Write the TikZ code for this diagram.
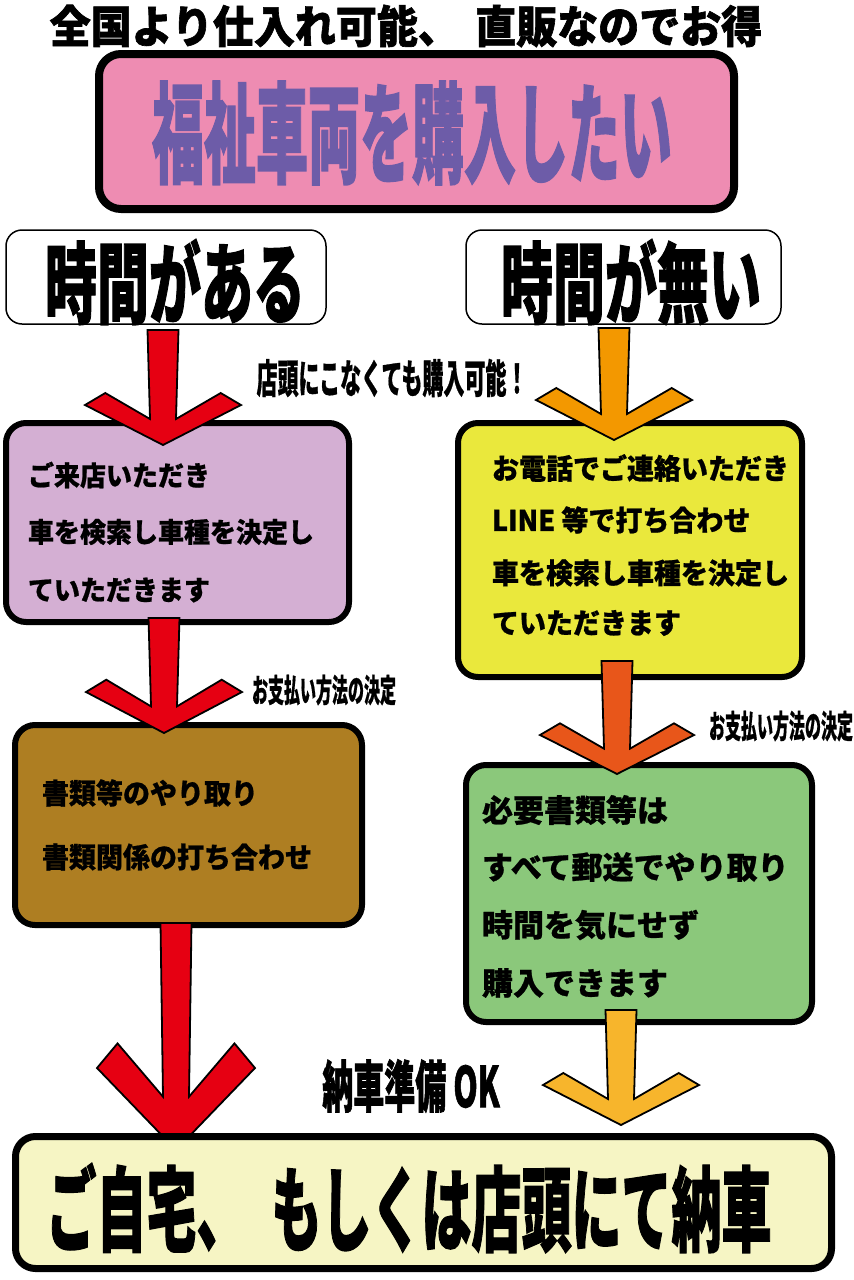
\documentclass[tikz,border=0pt]{standalone}
\usepackage{fontspec}
\usepackage{graphicx}
\newfontfamily\jp{Noto Sans CJK JP}[FakeBold=0.8]
\newfontfamily\jpx{Noto Sans CJK JP}[FakeBold=1.5]
\definecolor{pinkc}{HTML}{EE8CB2}
\definecolor{purp}{HTML}{6D5CA8}
\definecolor{lav}{HTML}{D4AFD3}
\definecolor{yel}{HTML}{EAE83C}
\definecolor{brn}{HTML}{AE7E22}
\definecolor{grn}{HTML}{8BC87B}
\definecolor{crm}{HTML}{F6F5C4}
\definecolor{redc}{HTML}{E60012}
\definecolor{orgc}{HTML}{F39800}
\definecolor{oredc}{HTML}{E8561A}
\definecolor{yorgc}{HTML}{F7B52C}
\newcommand\ystr[2]{\scalebox{1}[#1]{#2}}
\newcommand\fsz[1]{\fontsize{#1pt}{#1pt}\selectfont}
% arrow shape: color, cx, ytop, ytip, halfwidth, depth
\newcommand\fatarrow[6]{%
  \draw[arrshape, fill=#1] ({#2-15.5},{#3}) -- ({#2+15.5},{#3}) -- ({#2+13},{#4-0.65*#6})
   -- ({#2+0.74*#5},{#4-1.3*#6}) -- ({#2+#5},{#4-#6}) -- ({#2},{#4})
   -- ({#2-#5},{#4-#6}) -- ({#2-0.74*#5},{#4-1.3*#6}) -- ({#2-13},{#4-0.65*#6}) -- cycle;}
\tikzset{
  every node/.style={inner sep=0pt, outer sep=0pt},
  tbox/.style={draw=black, rounded corners=20pt, line width=6pt},
  hbox/.style={draw=black, rounded corners=16pt, line width=1.5pt, fill=white},
  arrshape/.style={draw=black, line width=1.8pt, line join=miter},
  jtext/.style={font=\jp\bfseries, text=black},
  htext/.style={font=\jpx\bfseries, text=black},
  ltext/.style={jtext, anchor=west},
}
\begin{document}
\begin{tikzpicture}[x=1pt, y=-1pt]
\useasboundingbox (0,0) rectangle (854,1280);
\fill[white] (0,0) rectangle (854,1280);
% heading
\node[htext] (head) at (406,26) {\fsz{41}\ystr{1.08}{全国より仕入れ可能、\hspace{0.4em}直販なのでお得}};
% title box
\node[tbox, line width=8pt, rounded corners=22pt, fill=pinkc, minimum width=635pt, minimum height=155pt] (title) at (416.5,131.5) {};
\node[htext, text=purp] (titletxt) at (412,133) {\fsz{52}\ystr{2.1}{福祉車両を購入したい}};
% time boxes
\node[hbox, minimum width=320pt, minimum height=94pt] (timeA) at (166,277) {};
\node[htext] (timeAtxt) at (175,282) {\fsz{52}\ystr{1.7}{時間がある}};
\node[hbox, minimum width=315pt, minimum height=94pt] (timeB) at (623.5,277) {};
\node[htext] (timeBtxt) at (631,282) {\fsz{52}\ystr{1.7}{時間が無い}};
\node[jtext] (nostore) at (392,378) {\fsz{21}\ystr{1.9}{店頭にこなくても購入可能！}};
% left column
\node[tbox, fill=lav, minimum width=343pt, minimum height=199pt] (visit) at (177.5,522.5) {};
\node[ltext] (v1) at (28,475) {\fsz{26}\ystr{1.05}{ご来店いただき}};
\node[ltext] (v2) at (28,532) {\fsz{26}\ystr{1.05}{車を検索し車種を決定し}};
\node[ltext] (v3) at (28,590) {\fsz{26}\ystr{1.05}{ていただきます}};
\node[tbox, fill=brn, minimum width=347pt, minimum height=200pt] (docs) at (188.5,825) {};
\node[ltext] (d1) at (42,793) {\fsz{27}\ystr{1.05}{書類等のやり取り}};
\node[ltext] (d2) at (42,857) {\fsz{27}\ystr{1.05}{書類関係の打ち合わせ}};
% right column
\node[tbox, fill=yel, minimum width=344pt, minimum height=254pt] (phone) at (630,550) {};
\node[ltext] (p1) at (492,468) {\fsz{27}\ystr{1.05}{お電話でご連絡いただき}};
\node[ltext] (p2) at (492,520) {\fsz{27}\ystr{1.05}{LINE 等で打ち合わせ}};
\node[ltext] (p3) at (492,573) {\fsz{27}\ystr{1.05}{車を検索し車種を決定し}};
\node[ltext] (p4) at (492,623) {\fsz{27}\ystr{1.05}{ていただきます}};
\node[tbox, fill=grn, minimum width=346pt, minimum height=257pt] (mail) at (639,893.5) {};
\node[ltext] (m1) at (482,810) {\fsz{31}\ystr{1.0}{必要書類等は}};
\node[ltext] (m2) at (482,867) {\fsz{31}\ystr{1.0}{すべて郵送でやり取り}};
\node[ltext] (m3) at (482,925) {\fsz{31}\ystr{1.0}{時間を気にせず}};
\node[ltext] (m4) at (482,983) {\fsz{31}\ystr{1.0}{購入できます}};
% labels
\node[jtext] (payL) at (324,690) {\fsz{16}\ystr{2.0}{お支払い方法の決定}};
\node[jtext] (payR) at (781,726) {\fsz{16}\ystr{2.0}{お支払い方法の決定}};
\node[htext] (ready) at (411,1086) {\fsz{31}\ystr{1.8}{納車準備 OK}};
% arrows
\fatarrow{redc}{163}{330}{445}{78}{40}
\fatarrow{redc}{164}{618}{733}{78}{41}
\fatarrow{redc}{176}{923}{1150}{79}{82}
\fatarrow{orgc}{614}{328}{440}{78}{40}
\fatarrow{oredc}{617}{661}{774}{77}{39}
\fatarrow{yorgc}{621}{1010}{1125}{78}{40}
% bottom box
\node[tbox, line width=7pt, fill=crm, minimum width=816pt, minimum height=132pt] (deliv) at (423.5,1202.5) {};
\node[htext] (delivtxt) at (409,1208) {\fsz{50}\ystr{1.85}{ご自宅、\hspace{0.5em}もしくは店頭にて納車}};
\end{tikzpicture}
\end{document}
